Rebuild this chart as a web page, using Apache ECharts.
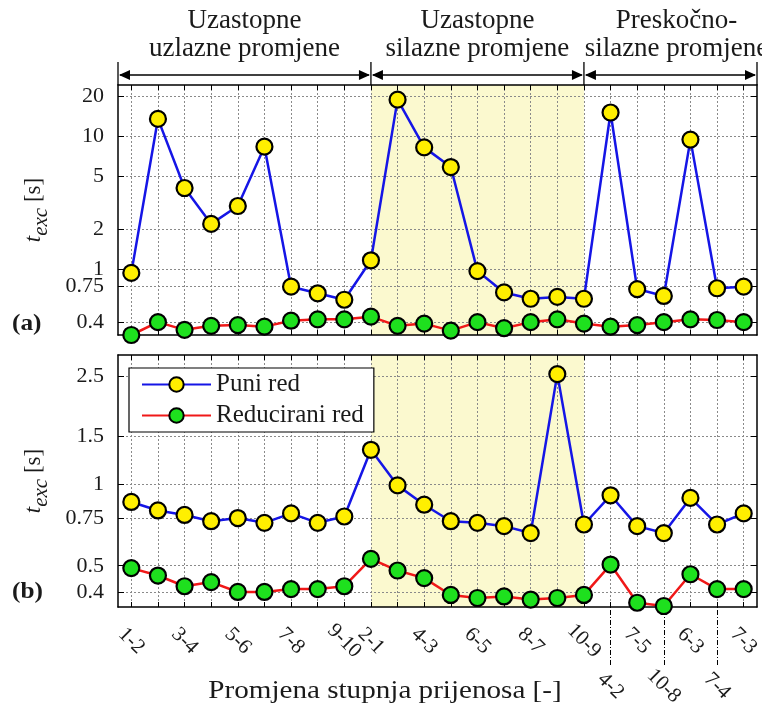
<!DOCTYPE html>
<html><head><meta charset="utf-8">
<script src="https://cdn.jsdelivr.net/npm/echarts@6/dist/echarts.min.js"></script>
<style>html,body{margin:0;padding:0;background:#fff}#c{width:762px;height:712px}</style>
</head><body><div id="c"></div>
<script>
const categories = ['1-2','2-3','3-4','4-5','5-6','6-7','7-8','8-9','9-10','2-1','3-2','4-3','5-4','6-5','7-6','8-7','9-8','10-9','4-2','7-5','10-8','6-3','7-4','7-3'];
const upperLabelIdx = [0,2,4,6,8,9,11,13,15,17,19,21,23];
const lowerLabelIdx = [18,20,22];
const puniA = [0.94,13.6,4.1,2.2,3.0,8.4,0.74,0.66,0.59,1.17,19.0,8.3,5.9,0.97,0.67,0.60,0.62,0.60,15.2,0.71,0.63,9.5,0.72,0.74];
const reduA = [0.32,0.40,0.35,0.375,0.38,0.37,0.41,0.42,0.42,0.44,0.375,0.39,0.345,0.40,0.36,0.40,0.42,0.39,0.37,0.38,0.40,0.42,0.415,0.40];
const puniB = [0.86,0.80,0.77,0.73,0.75,0.72,0.78,0.72,0.76,1.34,0.99,0.84,0.73,0.72,0.70,0.66,2.55,0.71,0.91,0.70,0.66,0.89,0.71,0.78];
const reduB = [0.49,0.46,0.42,0.435,0.40,0.40,0.41,0.41,0.42,0.53,0.48,0.45,0.39,0.38,0.385,0.375,0.38,0.39,0.505,0.365,0.355,0.465,0.41,0.41];
const ticksA = [0.4,0.75,1,2,5,10,20];
const ticksB = [0.4,0.5,0.75,1,1.5,2.5];
const rangeA = [0.32, 24.5];
const rangeB = [0.352, 3.0];
const shadeRange = [9, 17];
const seriesNames = ['Puni red', 'Reducirani red'];
const groupTitles = ['Uzastopne\nuzlazne promjene', 'Uzastopne\nsilazne promjene', 'Preskočno-\nsilazne promjene'];
const xTitle = 'Promjena stupnja prijenosa [-]';
const yTitle = '{i|t}{s|exc} [s]';
const panelTags = ['(a)', '(b)'];

const FONT = 'Liberation Serif';
const INK = '#1a1a1a';
const L = v => Math.log10(v);
const idxAll = categories.map((_, i) => i);
const fmtY = ticks => v => { for (const t of ticks) if (Math.abs(L(t) - v) < 1e-6) return String(t); return ''; };
const fmtX = v => categories[Math.round(v)] || '';
const axisLine = { show: true, onZero: false, lineStyle: { color: '#000', width: 1.5 } };
const gridLine = { show: true, lineStyle: { color: '#8a8a8a', width: 1, type: [2, 2] } };

const grids = [
  { left: 118, right: 5, top: 85, height: 250, outerBoundsMode: 'none' },
  { left: 118, right: 5, top: 355, height: 252, outerBoundsMode: 'none' }
];

function xAx(grid, pos, withGrid, labelIdx) {
  return {
    type: 'value', gridIndex: grid, position: pos, min: -0.5, max: 23.5, z: 3,
    axisLine: axisLine,
    axisTick: { show: true, inside: true, length: 5, customValues: idxAll, lineStyle: { color: '#000', width: 1 } },
    axisLabel: labelIdx ? {
      show: true, customValues: labelIdx, formatter: fmtX, rotate: -45, align: 'center', verticalAlign: 'middle',
      margin: 34, fontFamily: FONT, fontSize: 21, color: INK
    } : { show: false },
    splitLine: withGrid ? gridLine : { show: false }
  };
}
function yAx(grid, pos, ticks, range, withLabels) {
  return {
    type: 'value', gridIndex: grid, position: pos, min: L(range[0]), max: L(range[1]), z: 3,
    axisLine: axisLine,
    axisTick: { show: true, inside: true, length: 6, customValues: ticks.map(L), lineStyle: { color: '#000', width: 1 } },
    axisLabel: withLabels ? { show: true, customValues: ticks.map(L), formatter: fmtY(ticks), margin: 14,
      fontFamily: FONT, fontSize: 22, color: INK } : { show: false },
    splitLine: withLabels ? gridLine : { show: false },
    name: withLabels ? yTitle : '', nameLocation: 'middle', nameGap: 66, nameRotate: 90, nameMoveOverlap: false,
    nameTextStyle: { fontFamily: FONT, fontSize: 23, color: INK,
      rich: { i: { fontFamily: FONT, fontSize: 23, fontStyle: 'italic', color: INK },
              s: { fontFamily: FONT, fontSize: 21, fontStyle: 'italic', color: INK, padding: [15, 0, 0, 0] } } }
  };
}

const xAxes = [
  xAx(0, 'bottom', true, null),
  xAx(0, 'top', false, null),
  xAx(1, 'bottom', true, upperLabelIdx),
  xAx(1, 'top', false, null),
  {
    type: 'value', gridIndex: 1, position: 'bottom', offset: 58, min: -0.5, max: 23.5, z: 3,
    axisLine: { show: false, onZero: false },
    axisTick: { show: true, inside: true, length: 58, customValues: lowerLabelIdx, lineStyle: { color: '#000', width: 1, type: [5, 2, 1, 2] } },
    axisLabel: { show: true, customValues: lowerLabelIdx, formatter: fmtX, rotate: -45, align: 'center', verticalAlign: 'middle',
      margin: 21, fontFamily: FONT, fontSize: 21, color: INK },
    splitLine: { show: false }
  }
];
const yAxes = [
  yAx(0, 'left', ticksA, rangeA, true),
  yAx(0, 'right', ticksA, rangeA, false),
  yAx(1, 'left', ticksB, rangeB, true),
  yAx(1, 'right', ticksB, rangeB, false)
];

function lineSeries(name, vals, xi, yi, lineColor, fill) {
  return {
    type: 'line', name, xAxisIndex: xi, yAxisIndex: yi, data: vals.map((v, i) => [i, L(v)]),
    symbol: 'circle', symbolSize: 16, clip: false, z: 5, animation: false,
    lineStyle: { color: lineColor, width: 2.5 },
    itemStyle: { color: fill, borderColor: '#000', borderWidth: 2.2 },
    emphasis: { disabled: true }
  };
}
function shadeSeries(xi, yi) {
  return {
    type: 'line', name: 'shade', xAxisIndex: xi, yAxisIndex: yi, data: [], z: 1, silent: true, animation: false,
    markArea: { silent: true, itemStyle: { color: '#fbf9cf' }, data: [[{ xAxis: shadeRange[0] }, { xAxis: shadeRange[1] }]] }
  };
}

const BLUE = '#1515e6', RED = '#f01818', YEL = '#ffef00', GRN = '#1ee01e';
const series = [
  shadeSeries(0, 0), shadeSeries(2, 2),
  lineSeries(seriesNames[0], puniA, 0, 0, BLUE, YEL),
  lineSeries(seriesNames[1], reduA, 0, 0, RED, GRN),
  lineSeries(seriesNames[0], puniB, 2, 2, BLUE, YEL),
  lineSeries(seriesNames[1], reduB, 2, 2, RED, GRN)
];

const chart = echarts.init(document.getElementById('c'), null, { renderer: 'canvas' });
chart.setOption({
  backgroundColor: '#fff',
  animation: false,
  grid: grids,
  xAxis: xAxes,
  yAxis: yAxes,
  legend: {
    data: seriesNames, orient: 'vertical', left: 129, top: 368, z: 10,
    backgroundColor: '#fff', borderColor: '#000', borderWidth: 1.2, borderRadius: 0,
    padding: [4, 10, 4, 12], itemGap: 6, itemWidth: 69, itemHeight: 18,
    textStyle: { fontFamily: FONT, fontSize: 25, color: INK, lineHeight: 23 },
    selectedMode: false
  },
  series: series
});

const px = i => chart.convertToPixel({ xAxisIndex: 0 }, i);
const bounds = [px(-0.5), px(shadeRange[0]), px(shadeRange[1]), px(23.5)];
const titleShift = [0, 0, 6];
const graphics = [];
const AY = 75, AH = 5, AW = 11;
for (let k = 0; k < 3; k++) {
  const a = bounds[k], b = bounds[k + 1];
  graphics.push({ type: 'text', x: (a + b) / 2 + titleShift[k], y: 7,
    style: { text: groupTitles[k], fontFamily: FONT, fontSize: 27, lineHeight: 28, fill: INK, align: 'center', verticalAlign: 'top' } });
  graphics.push({ type: 'line', shape: { x1: a + 2, y1: AY, x2: b - 2, y2: AY }, style: { stroke: '#000', lineWidth: 1.3 } });
  graphics.push({ type: 'polygon', shape: { points: [[a + 1, AY], [a + 1 + AW, AY - AH], [a + 1 + AW, AY + AH]] }, style: { fill: '#000' } });
  graphics.push({ type: 'polygon', shape: { points: [[b - 1, AY], [b - 1 - AW, AY - AH], [b - 1 - AW, AY + AH]] }, style: { fill: '#000' } });
}
for (const bx of bounds) {
  graphics.push({ type: 'line', shape: { x1: bx, y1: 62, x2: bx, y2: 85 }, style: { stroke: '#000', lineWidth: 1.3 } });
}
graphics.push({ type: 'text', x: 12, y: 324, scaleX: 1.1, style: { text: panelTags[0], fontFamily: FONT, fontSize: 23, fontWeight: 'bold', fill: INK, verticalAlign: 'middle' } });
graphics.push({ type: 'text', x: 12, y: 592, scaleX: 1.1, style: { text: panelTags[1], fontFamily: FONT, fontSize: 23, fontWeight: 'bold', fill: INK, verticalAlign: 'middle' } });
graphics.push({ type: 'text', x: 385, y: 691, scaleX: 1.12, style: { text: xTitle, fontFamily: FONT, fontSize: 26, fill: INK, align: 'center', verticalAlign: 'middle' } });
chart.setOption({ graphic: graphics });
</script>
</body></html>
